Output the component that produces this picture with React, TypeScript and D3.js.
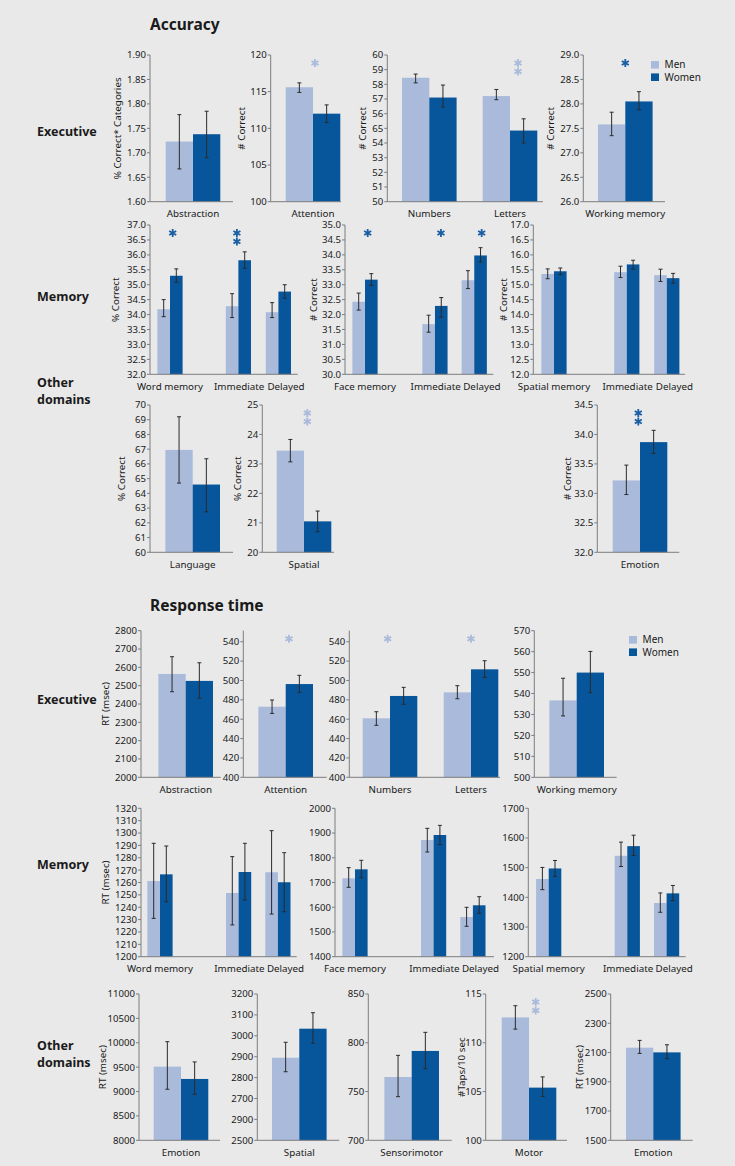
import React from "react";
import * as d3 from "d3";

// colours
const MEN = "#a9badb";
const WOMEN = "#07559b";
const STAR_MEN = "#a9badb";
const STAR_WOMEN = "#1a5fa3";
const AXIS = "#7d7d7d";
const FONT = "'Noto Sans', 'Open Sans', sans-serif";

// ---- Accuracy ----
const accExecCats = ["Abstraction", "Attention", "Numbers", "Letters", "Working memory"];
// [mean, lower, upper]
const accExecMen = [[1.723, 1.667, 1.778], [115.6, 114.9, 116.2], [58.45, 58.1, 58.7], [57.2, 56.95, 57.65], [27.58, 27.35, 27.83]];
const accExecWomen = [[1.738, 1.69, 1.785], [112.0, 110.8, 113.2], [57.1, 56.45, 57.95], [54.85, 54.0, 55.65], [28.05, 27.88, 28.25]];
// m = men higher, w = women higher, one letter per star
const accExecStars = ["", "m", "", "mm", "w"];

const accMemCats = ["Word memory", "Immediate", "Delayed", "Face memory", "Immediate", "Delayed", "Spatial memory", "Immediate", "Delayed"];
const accMemMen = [[34.18, 33.93, 34.5], [34.28, 33.9, 34.7], [34.08, 33.9, 34.4], [32.43, 32.15, 32.72], [31.68, 31.41, 31.98], [33.15, 32.87, 33.47], [15.36, 15.2, 15.53], [15.42, 15.24, 15.62], [15.32, 15.11, 15.52]];
const accMemWomen = [[35.3, 35.08, 35.53], [35.82, 35.55, 36.1], [34.77, 34.55, 35.0], [33.17, 32.98, 33.37], [32.29, 31.91, 32.57], [33.98, 33.76, 34.24], [15.45, 15.34, 15.56], [15.68, 15.52, 15.82], [15.22, 15.05, 15.38]];
const accMemStars = ["w", "ww", "", "w", "w", "w", "", "", ""];

const accOtherCats = ["Language", "Spatial", "Emotion"];
const accOtherMen = [[66.95, 64.7, 69.2], [23.45, 23.07, 23.83], [33.22, 32.98, 33.48]];
const accOtherWomen = [[64.6, 62.75, 66.35], [21.05, 20.7, 21.4], [33.87, 33.68, 34.07]];
const accOtherStars = ["", "mm", "ww"];

// ---- Response time ----
const rtExecCats = ["Abstraction", "Attention", "Numbers", "Letters", "Working memory"];
const rtExecMen = [[2564, 2467, 2658], [472.9, 466, 479.8], [460.9, 453.7, 467.7], [487.7, 481.1, 494.6], [536.7, 529.3, 547.3]];
const rtExecWomen = [[2526, 2431, 2625], [496.3, 487.5, 505.3], [484, 475.4, 492.9], [511.5, 503.2, 520.4], [550, 540.4, 560.1]];
const rtExecStars = ["", "m", "m", "m", ""];

const rtMemCats = ["Word memory", "Immediate", "Delayed", "Face memory", "Immediate", "Delayed", "Spatial memory", "Immediate", "Delayed"];
const rtMemMen = [[1261.2, 1231, 1291.7], [1251.5, 1225.7, 1280.9], [1268.3, 1234.5, 1301.9], [1717, 1680.5, 1760], [1871.8, 1823.3, 1919], [1560.5, 1522.9, 1599.7], [1461.7, 1425.9, 1500.7], [1540, 1504, 1586], [1381, 1349.7, 1414.8]];
const rtMemWomen = [[1266.6, 1244.5, 1289.5], [1268.5, 1245.9, 1291.7], [1260.2, 1236.4, 1284.1], [1753.3, 1719.4, 1789.7], [1892, 1852.8, 1931], [1607.8, 1575.4, 1642.6], [1497.3, 1470.5, 1524.2], [1572.5, 1541, 1609.4], [1413.4, 1389, 1440]];
const rtMemStars = ["", "", "", "", "", "", "", "", ""];

const rtOtherCats = ["Emotion", "Spatial", "Sensorimotor", "Motor", "Emotion"];
const rtOtherMen = [[9510, 9047, 10022], [2895, 2828, 2969], [764.9, 744.7, 787.1], [112.6, 111.4, 113.8], [2133, 2094, 2183]];
const rtOtherWomen = [[9258, 8945, 9607], [3034, 2964, 3110.5], [791.6, 773.4, 810.7], [105.4, 104.5, 106.5], [2101, 2058, 2153]];
const rtOtherStars = ["", "", "", "mm", ""];

// tick labels
const numTicks = d3.range(50, 61, 1);
const numTickLabels = ["50", "51", "52", "53", "54", "65", "56", "57", "58", "59", "60"];
const rtSpatTicks = d3.range(2500, 3201, 100);
const rtSpatTickLabels = ["2500", "2900", "2700", "2800", "2900", "3000", "3100", "3200"];

const legendItems = ["Men", "Women"];

interface Panel {
  cats: string[];
  men: number[][];
  women: number[][];
  stars: string[];
  idx: number[];
  domain: [number, number];
  ticks: number[];
  tickLabels?: string[];
  fmt?: string;
  x0: number;
  x1: number;
  top: number;
  bottom: number;
  lead: number;
  unit?: number;
  slots?: number[];
  barW: number;
  title?: string;
  titleX?: number;
  starDx?: number[];
  labelDx?: number[];
}

const BIG = 27.3;
const SMALL = 12.6;
const memLabelDx = [0, 0.8, 7.6];

const accE = { cats: accExecCats, men: accExecMen, women: accExecWomen, stars: accExecStars };
const accM = { cats: accMemCats, men: accMemMen, women: accMemWomen, stars: accMemStars };
const accO = { cats: accOtherCats, men: accOtherMen, women: accOtherWomen, stars: accOtherStars };
const rtE = { cats: rtExecCats, men: rtExecMen, women: rtExecWomen, stars: rtExecStars };
const rtM = { cats: rtMemCats, men: rtMemMen, women: rtMemWomen, stars: rtMemStars };
const rtO = { cats: rtOtherCats, men: rtOtherMen, women: rtOtherWomen, stars: rtOtherStars };

const panels: Panel[] = [
  // accuracy / executive
  { ...accE, idx: [0], domain: [1.6, 1.9], ticks: d3.range(1.6, 1.901, 0.05), fmt: ".2f", x0: 150, x1: 233, top: 55, bottom: 201.7, lead: 43, barW: BIG, title: "% Correct* Categories", titleX: 118 },
  { ...accE, idx: [1], domain: [100, 120], ticks: d3.range(100, 121, 5), x0: 270.7, x1: 341, top: 55, bottom: 201.7, lead: 42.3, barW: BIG, title: "# Correct", titleX: 241.7, starDx: [2] },
  { ...accE, idx: [2, 3], domain: [50, 60], ticks: numTicks, tickLabels: numTickLabels, x0: 387.3, x1: 543, top: 55, bottom: 201.7, lead: 42, unit: 80.7, slots: [0, 1], barW: BIG, title: "# Correct", titleX: 363, starDx: [0, 8] },
  { ...accE, idx: [4], domain: [26, 29], ticks: d3.range(26, 29.01, 0.5), fmt: ".1f", x0: 583.3, x1: 665, top: 55, bottom: 201.7, lead: 42, barW: BIG, title: "# Correct", titleX: 551, starDx: [0] },
  // accuracy / memory
  { ...accM, idx: [0, 1, 2], domain: [32, 37], ticks: d3.range(32, 37.01, 0.5), fmt: ".1f", x0: 150, x1: 297.7, top: 225, bottom: 374.3, lead: 20, unit: 40, slots: [0, 1.71, 2.71], barW: SMALL, title: "% Correct", titleX: 116, starDx: [2.7, -1.5, 0], labelDx: memLabelDx },
  { ...accM, idx: [3, 4, 5], domain: [30, 35], ticks: d3.range(30, 35.01, 0.5), fmt: ".1f", x0: 345, x1: 493.3, top: 225, bottom: 374.3, lead: 20, unit: 39.3, slots: [0, 1.78, 2.78], barW: SMALL, title: "# Correct", titleX: 313.3, starDx: [2.7, 6, 7.4], labelDx: memLabelDx },
  { ...accM, idx: [6, 7, 8], domain: [12, 17], ticks: d3.range(12, 17.01, 0.5), fmt: ".1f", x0: 533.3, x1: 685, top: 225, bottom: 374.3, lead: 20.7, unit: 40, slots: [0, 1.82, 2.82], barW: SMALL, title: "# Correct", titleX: 503.3, labelDx: memLabelDx },
  // accuracy / other
  { ...accO, idx: [0], domain: [60, 70], ticks: d3.range(60, 71, 1), x0: 150, x1: 233, top: 405, bottom: 552.3, lead: 42.7, barW: BIG, title: "% Correct", titleX: 121.7 },
  { ...accO, idx: [1], domain: [20, 25], ticks: d3.range(20, 26, 1), x0: 262.3, x1: 334, top: 405, bottom: 552.3, lead: 41.7, barW: BIG, title: "% Correct", titleX: 237.3, starDx: [3.3] },
  { ...accO, idx: [2], domain: [32, 34.5], ticks: d3.range(32, 34.51, 0.5), fmt: ".1f", x0: 597.3, x1: 679.3, top: 405, bottom: 552.3, lead: 42.7, barW: BIG, title: "# Correct", titleX: 567.3, starDx: [-1.7] },
  // response time / executive
  { ...rtE, idx: [0], domain: [2000, 2800], ticks: d3.range(2000, 2801, 100), x0: 141, x1: 220.7, top: 630.7, bottom: 777.3, lead: 44.7, barW: BIG, title: "RT (msec)", titleX: 106 },
  { ...rtE, idx: [1], domain: [400, 551.4], ticks: d3.range(400, 541, 20), x0: 243.3, x1: 326.7, top: 630.7, bottom: 777.3, lead: 42.4, barW: BIG, starDx: [3.3] },
  { ...rtE, idx: [2, 3], domain: [400, 551.4], ticks: d3.range(400, 541, 20), x0: 349.3, x1: 500, top: 630.7, bottom: 777.3, lead: 40.7, unit: 81, slots: [0, 1], barW: BIG, starDx: [-2.3, 0] },
  { ...rtE, idx: [4], domain: [500, 570], ticks: d3.range(500, 571, 10), x0: 534.3, x1: 616.7, top: 630.7, bottom: 777.3, lead: 42.4, barW: BIG },
  // response time / memory
  { ...rtM, idx: [0, 1, 2], domain: [1200, 1320], ticks: d3.range(1200, 1321, 10), x0: 141, x1: 296.7, top: 808.3, bottom: 956.7, lead: 19, unit: 39.3, slots: [0, 2, 3], barW: SMALL, title: "RT (msec)", titleX: 106, labelDx: memLabelDx },
  { ...rtM, idx: [3, 4, 5], domain: [1400, 2000], ticks: d3.range(1400, 2001, 100), x0: 335, x1: 494, top: 808.3, bottom: 956.7, lead: 20, unit: 39.3, slots: [0, 2, 3], barW: SMALL, labelDx: memLabelDx },
  { ...rtM, idx: [6, 7, 8], domain: [1200, 1700], ticks: d3.range(1200, 1701, 100), x0: 528.3, x1: 685.7, top: 808.3, bottom: 956.7, lead: 20.4, unit: 39.3, slots: [0, 2, 3], barW: SMALL, labelDx: memLabelDx },
  // response time / other
  { ...rtO, idx: [0], domain: [8000, 11000], ticks: d3.range(8000, 11001, 500), x0: 139, x1: 220, top: 994, bottom: 1140.3, lead: 42, barW: BIG, title: "RT (msec)", titleX: 103 },
  { ...rtO, idx: [1], domain: [2500, 3200], ticks: rtSpatTicks, tickLabels: rtSpatTickLabels, x0: 257.3, x1: 339.3, top: 994, bottom: 1140.3, lead: 42, barW: BIG },
  { ...rtO, idx: [2], domain: [700, 850], ticks: d3.range(700, 851, 50), x0: 368.3, x1: 451.7, top: 994, bottom: 1140.3, lead: 43.4, barW: BIG },
  { ...rtO, idx: [3], domain: [100, 115], ticks: d3.range(100, 116, 5), x0: 485.7, x1: 567, top: 994, bottom: 1140.3, lead: 43.3, barW: BIG, title: "#Taps/10 sec", titleX: 461.7, starDx: [6.7] },
  { ...rtO, idx: [4], domain: [1500, 2500], ticks: d3.range(1500, 2501, 200), x0: 610.7, x1: 692.7, top: 994, bottom: 1140.3, lead: 42.6, barW: BIG, title: "RT (msec)", titleX: 579.3 },
];

const star = d3.symbol().type(d3.symbolAsterisk).size(46)();

function ErrorBar({ x, y0, y1 }: { x: number; y0: number; y1: number }) {
  return (
    <g stroke="#2b2b2b" strokeWidth={1}>
      <line x1={x} x2={x} y1={y0} y2={y1} />
      <line x1={x - 2} x2={x + 2} y1={y0} y2={y0} />
      <line x1={x - 2} x2={x + 2} y1={y1} y2={y1} />
    </g>
  );
}

function BarPanel({ p }: { p: Panel }) {
  const y = d3.scaleLinear().domain(p.domain).range([p.bottom, p.top]);
  const unit = p.unit ?? 80;
  const slots = p.slots ?? [0];
  const x = d3.scaleLinear().domain([0, 1]).range([p.x0 + p.lead, p.x0 + p.lead + unit]);
  const fmt = p.fmt ? d3.format(p.fmt) : d3.format("d");

  return (
    <g>
      {p.idx.map((k, i) => {
        const cx = x(slots[i]);
        const m = p.men[k];
        const w = p.women[k];
        const s = p.stars[k];
        const dx = p.starDx ? p.starDx[i] : 0;
        const ldx = p.labelDx ? p.labelDx[i] : 0;
        return (
          <g key={k}>
            <rect x={cx - p.barW} y={y(m[0])} width={p.barW} height={p.bottom - y(m[0])} fill={MEN} />
            <rect x={cx} y={y(w[0])} width={p.barW} height={p.bottom - y(w[0])} fill={WOMEN} />
            <ErrorBar x={cx - p.barW / 2} y0={y(m[2])} y1={y(m[1])} />
            <ErrorBar x={cx + p.barW / 2} y0={y(w[2])} y1={y(w[1])} />
            {s.split("").map((c, j) => (
              <path
                key={j}
                d={star}
                transform={`translate(${cx + dx},${p.top + 8 + j * 8.5})`}
                stroke={c === "m" ? STAR_MEN : STAR_WOMEN}
                strokeWidth={1.8}
                fill="none"
              />
            ))}
            <text x={cx + ldx} y={p.bottom + 15.5} textAnchor="middle" fontSize={9.8} fill="#1a1a1a">
              {p.cats[k]}
            </text>
          </g>
        );
      })}
      <line x1={p.x0} x2={p.x0} y1={p.top} y2={p.bottom} stroke={AXIS} />
      <line x1={p.x0} x2={p.x1} y1={p.bottom} y2={p.bottom} stroke={AXIS} />
      {p.ticks.map((t, i) => (
        <g key={i} transform={`translate(${p.x0},${y(t)})`}>
          <line x1={-3} x2={0} stroke={AXIS} />
          <text x={-4} dy="0.35em" textAnchor="end" fontSize={9.6} fill="#1a1a1a">
            {p.tickLabels ? p.tickLabels[i] : fmt(t)}
          </text>
        </g>
      ))}
      {p.title && (
        <text
          transform={`translate(${p.titleX},${(p.top + p.bottom) / 2}) rotate(-90)`}
          textAnchor="middle"
          dy="0.35em"
          fontSize={9.8}
          fill="#1a1a1a"
        >
          {p.title}
        </text>
      )}
    </g>
  );
}

function Legend({ x, y }: { x: number; y: number }) {
  return (
    <g>
      {legendItems.map((d, i) => (
        <g key={d} transform={`translate(${x},${y + i * 12.4})`}>
          <rect width={8} height={7.6} fill={i === 0 ? MEN : WOMEN} />
          <text x={13.6} y={3.8} dy="0.35em" fontSize={10} fill="#1a1a1a">
            {d}
          </text>
        </g>
      ))}
    </g>
  );
}

function RowLabel({ lines, y }: { lines: string[]; y: number }) {
  return (
    <text x={37} y={y} fontSize={12.5} fontWeight="bold" fill="#1a1a1a">
      {lines.map((l, i) => (
        <tspan key={i} x={37} dy={i === 0 ? 0 : 17}>
          {l}
        </tspan>
      ))}
    </text>
  );
}

export default function App() {
  return (
    <div style={{ position: "absolute", left: 0, top: 0 }}>
      <svg width={735} height={1166} style={{ display: "block", fontFamily: FONT }}>
        <rect width={735} height={1166} fill="#e9e9e9" />
        <text x={150} y={30} fontSize={15.5} fontWeight="bold" fill="#1a1a1a">Accuracy</text>
        <text x={150} y={611} fontSize={15.5} fontWeight="bold" fill="#1a1a1a">Response time</text>
        <RowLabel lines={["Executive"]} y={136} />
        <RowLabel lines={["Memory"]} y={301} />
        <RowLabel lines={["Other", "domains"]} y={387} />
        <RowLabel lines={["Executive"]} y={704} />
        <RowLabel lines={["Memory"]} y={869} />
        <RowLabel lines={["Other", "domains"]} y={1050} />
        {panels.map((p, i) => (
          <BarPanel key={i} p={p} />
        ))}
        <Legend x={651} y={61} />
        <Legend x={629} y={636} />
      </svg>
    </div>
  );
}
